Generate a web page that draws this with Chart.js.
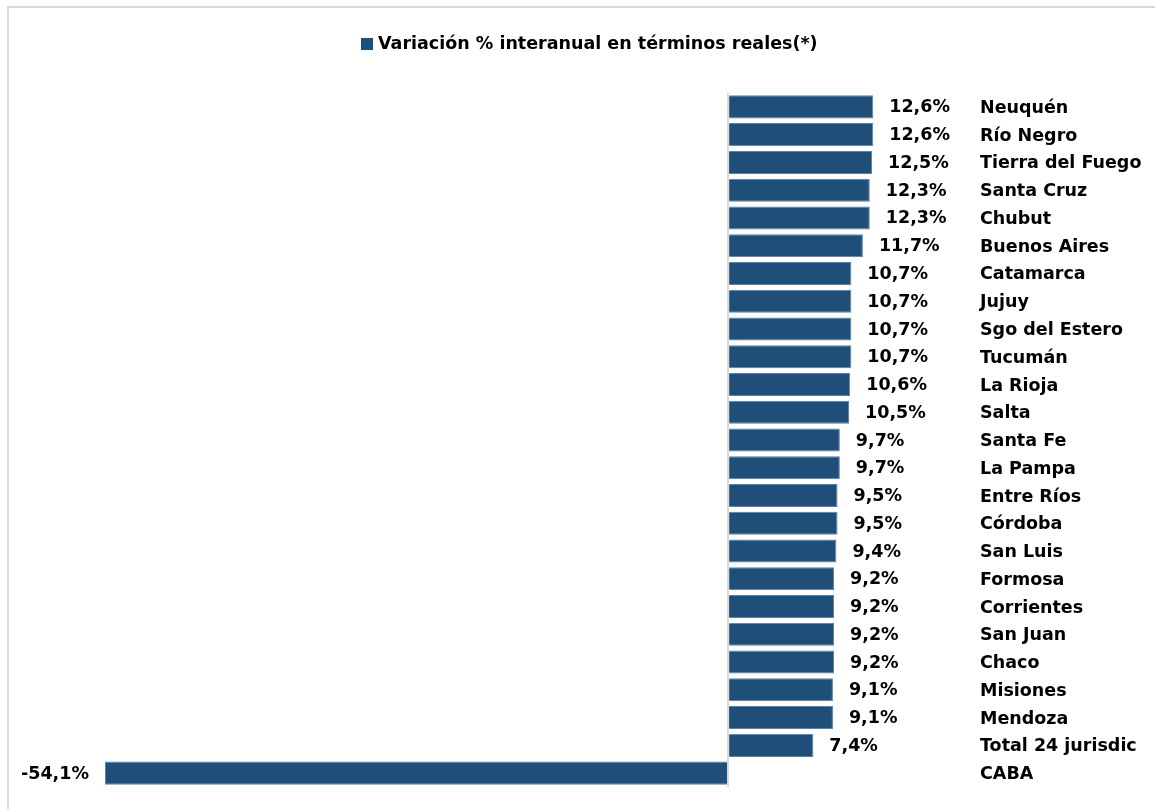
<!DOCTYPE html>
<html>
<head>
<meta charset="utf-8">
<script src="https://cdn.jsdelivr.net/npm/chart.js@4.4.1/dist/chart.umd.min.js"></script>
<style>
  html, body { margin: 0; padding: 0; background: #fff; }
  canvas { display: block; }
</style>
</head>
<body>
<canvas id="c" width="1155" height="809"></canvas>
<script>
const categories = ["Neuquén","Río Negro","Tierra del Fuego","Santa Cruz","Chubut","Buenos Aires","Catamarca","Jujuy","Sgo del Estero","Tucumán","La Rioja","Salta","Santa Fe","La Pampa","Entre Ríos","Córdoba","San Luis","Formosa","Corrientes","San Juan","Chaco","Misiones","Mendoza","Total 24 jurisdic","CABA"];
const values = [12.6,12.6,12.5,12.3,12.3,11.7,10.7,10.7,10.7,10.7,10.6,10.5,9.7,9.7,9.5,9.5,9.4,9.2,9.2,9.2,9.2,9.1,9.1,7.4,-54.1];
const seriesLabel = "Variación % interanual en términos reales(*)";

const FONT = "'DejaVu Sans', 'Liberation Sans', sans-serif";
const FSIZE = 17.5;
const BAR = '#1f4e79';

function fmt(v){ return v.toFixed(1).replace('.', ',') + '%'; }

const framePlugin = {
  id: 'frame',
  beforeDraw(chart){
    const ctx = chart.ctx;
    ctx.save();
    ctx.fillStyle = '#fff';
    ctx.fillRect(0,0,chart.width,chart.height);
    ctx.strokeStyle = '#d9d9d9';
    ctx.lineWidth = 2;
    ctx.strokeRect(8, 7, 1300, 1000);
    ctx.restore();
  }
};

const legendPlugin = {
  id: 'customLegend',
  afterDraw(chart){
    const ctx = chart.ctx;
    const ds = chart.data.datasets[0];
    ctx.save();
    ctx.font = 'bold ' + FSIZE + 'px ' + FONT;
    const tw = ctx.measureText(ds.label).width;
    const total = 12 + 5 + tw;
    const x0 = Math.round(589 - total/2);
    ctx.fillStyle = ds.backgroundColor;
    ctx.fillRect(x0, 38, 12, 12);
    ctx.fillStyle = '#000';
    ctx.textBaseline = 'middle';
    ctx.textAlign = 'left';
    ctx.fillText(ds.label, x0 + 17, 44.5);
    ctx.restore();
  }
};

const valueLabels = {
  id: 'valueLabels',
  afterDatasetsDraw(chart){
    const ctx = chart.ctx;
    const meta = chart.getDatasetMeta(0);
    const data = chart.data.datasets[0].data;
    ctx.save();
    ctx.font = 'bold ' + FSIZE + 'px ' + FONT;
    ctx.fillStyle = '#000';
    ctx.textBaseline = 'middle';
    meta.data.forEach((bar, i) => {
      const v = data[i];
      if (v >= 0) {
        ctx.textAlign = 'left';
        ctx.fillText(fmt(v), bar.x + 16, bar.y + 1);
      } else {
        ctx.textAlign = 'right';
        ctx.fillText(fmt(v), bar.x - 16, bar.y + 1);
      }
    });
    ctx.restore();
  }
};

new Chart(document.getElementById('c'), {
  type: 'bar',
  data: {
    labels: categories,
    datasets: [{
      label: seriesLabel,
      data: values,
      backgroundColor: BAR,
      borderColor: '#5d80a6',
      borderWidth: 1,
      categoryPercentage: 1,
      barPercentage: 0.83
    }]
  },
  options: {
    indexAxis: 'y',
    responsive: false,
    animation: false,
    devicePixelRatio: 1,
    layout: { padding: { top: 93, bottom: 22, left: 37, right: 0 } },
    plugins: {
      legend: { display: false },
      tooltip: { enabled: false }
    },
    scales: {
      x: {
        min: -60, max: 21,
        z: 1,
        border: { display: false },
        grid: {
          drawTicks: false,
          lineWidth: 2,
          color: (c) => (c.tick && c.tick.value === 0) ? '#d9d9d9' : 'rgba(0,0,0,0)'
        },
        ticks: { display: false, stepSize: 10 },
        afterFit(s){ s.height = 0; }
      },
      y: {
        position: 'right',
        border: { display: false },
        grid: { display: false, drawTicks: false },
        ticks: {
          padding: 10,
          labelOffset: 1.5,
          color: '#000',
          font: { family: FONT, size: FSIZE, weight: 'bold' }
        },
        afterFit(s){ s.width = 185; }
      }
    }
  },
  plugins: [framePlugin, legendPlugin, valueLabels]
});
</script>
</body>
</html>
